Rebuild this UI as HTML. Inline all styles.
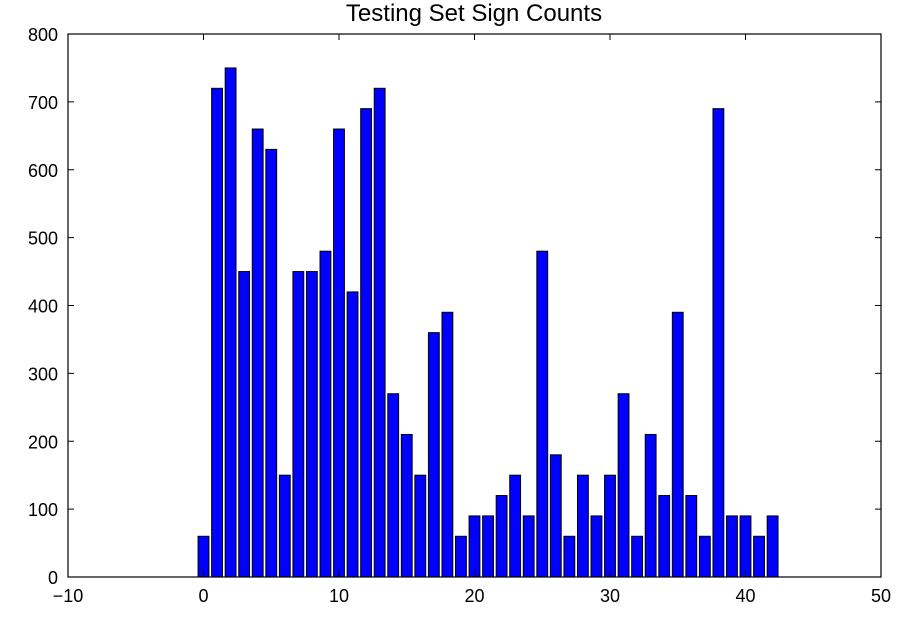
<!DOCTYPE html>
<html><head><meta charset="utf-8"><style>
body{margin:0;background:#fff;}
svg{display:block;font-family:"Liberation Sans","DejaVu Sans",sans-serif;}
</style></head><body>
<svg id="chart" width="897" height="617" viewBox="0 0 897 617" xmlns="http://www.w3.org/2000/svg">
<text x="474" y="21" font-size="24" text-anchor="middle">Testing Set Sign Counts</text>
<g id="bars"></g>
<g id="axes"></g>
</svg>
<script>
const classes = [0,1,2,3,4,5,6,7,8,9,10,11,12,13,14,15,16,17,18,19,20,21,22,23,24,25,26,27,28,29,30,31,32,33,34,35,36,37,38,39,40,41,42];
const counts = [60,720,750,450,660,630,150,450,450,480,660,420,690,720,270,210,150,360,390,60,90,90,120,150,90,480,180,60,150,90,150,270,60,210,120,390,120,60,690,90,90,60,90];
const xTicks = [-10,0,10,20,30,40,50];
const yTicks = [0,100,200,300,400,500,600,700,800];
const L=68,R=881,T=34,B=577;
const xs=v=>L+(v-(-10))/(60)*(R-L);
const ys=v=>B-v/800*(B-T);
const NS="http://www.w3.org/2000/svg";
const bars=document.getElementById('bars'), axes=document.getElementById('axes');
function mk(tag,attrs,parent){const e=document.createElementNS(NS,tag);for(const k in attrs)e.setAttribute(k,attrs[k]);parent.appendChild(e);return e;}
classes.forEach((c,i)=>{
  const x0=xs(c-0.4),x1=xs(c+0.4),y=ys(counts[i]);
  const r=mk('rect',{x:x0,y:y,width:x1-x0,height:B-y,fill:'#0000ff',stroke:'#000','stroke-width':1},bars);
  
  
});
const frame=mk('rect',{x:L,y:T,width:R-L,height:B-T,fill:'none',stroke:'#000','stroke-width':1.2},axes);


xTicks.forEach(t=>{
  const x=xs(t);
  mk('line',{x1:x,x2:x,y1:B,y2:B-6,stroke:'#000'},axes);
  mk('line',{x1:x,x2:x,y1:T,y2:T+6,stroke:'#000'},axes);
  const tx=mk('text',{x:x,y:B+25,'font-size':18,'text-anchor':'middle'},axes);
  tx.textContent=t<0?'\u2212'+(-t):t;
  
  
});
yTicks.forEach(t=>{
  const y=ys(t);
  mk('line',{x1:L,x2:L+6,y1:y,y2:y,stroke:'#000'},axes);
  mk('line',{x1:R,x2:R-6,y1:y,y2:y,stroke:'#000'},axes);
  const tx=mk('text',{x:L-10,y:y+7,'font-size':18,'text-anchor':'end'},axes);
  tx.textContent=t;
  
  
});
</script>
</body></html>
